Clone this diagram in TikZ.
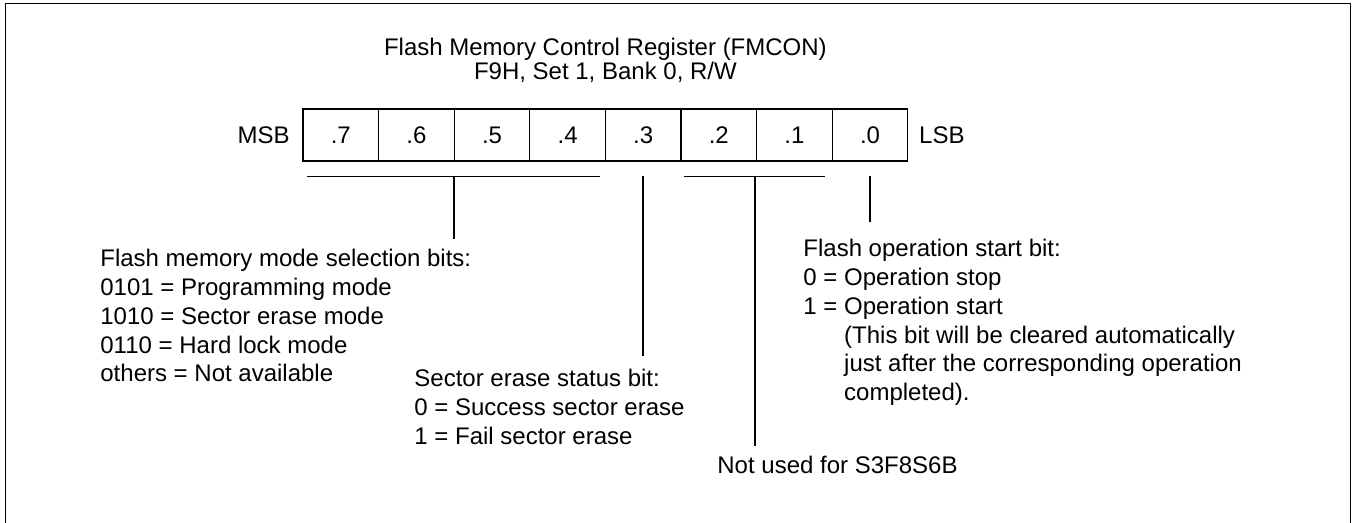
\documentclass[tikz,border=0pt]{standalone}
\usepackage{fontspec}
\setmainfont{Liberation Sans}
\usetikzlibrary{positioning}

\begin{document}
\begin{tikzpicture}[
  x=0.5pt, y=-0.5pt,
  node distance=0pt,
  bitcell/.style={draw, line width=0.55pt, outer sep=0pt, inner sep=0pt, minimum width=37.8pt, minimum height=26pt, font=\fontsize{12}{14.4}\selectfont},
  lbl/.style={inner sep=0pt, font=\fontsize{12}{14.4}\selectfont},
  note/.style={align=left, anchor=north west, inner sep=0pt, font=\fontsize{12}{14.35}\selectfont},
  wire/.style={line width=0.6pt}
]
\useasboundingbox (0,0) rectangle (1352,523);
\draw[line width=0.65pt] (5.7,540) -- (5.7,3.5) -- (1350.5,3.5) -- (1350.5,540);

% title
\node[lbl, align=center, anchor=north, font=\fontsize{12}{10.85}\selectfont] (title) at (605.4,37.5)
  {Flash Memory Control Register (FMCON)\\F9H, Set 1, Bank 0, R/W};

% register bits
\node[bitcell] (b7) at (340.8,135) {.7};
\node[bitcell, right=of b7] (b6) {.6};
\node[bitcell, right=of b6] (b5) {.5};
\node[bitcell, right=of b5] (b4) {.4};
\node[bitcell, right=of b4] (b3) {.3};
\node[bitcell, right=of b3] (b2) {.2};
\node[bitcell, right=of b2] (b1) {.1};
\node[bitcell, right=of b1] (b0) {.0};
\node[lbl, left=6.5pt of b7] (msb) {MSB};
\node[lbl, right=5.5pt of b0] (lsb) {LSB};

% descriptions
\node[note] (modetxt) at (100,249.2) {Flash memory mode selection bits:\\
  0101 = Programming mode\\1010 = Sector erase mode\\0110 = Hard lock mode\\others = Not available};
\node[note] (erasetxt) at (414,369.2) {Sector erase status bit:\\
  0 = Success sector erase\\1 = Fail sector erase};
\node[note] (unusedtxt) at (717,455.5) {Not used for S3F8S6B};
\node[note] (starttxt) at (803,239.2) {Flash operation start bit:\\
  0 = Operation stop\\1 = Operation start\\
  \hspace*{20.4pt}(This bit will be cleared automatically\\
  \hspace*{20.4pt}just after the corresponding operation\\
  \hspace*{20.4pt}completed).};

% field brackets and leaders
\coordinate (modetop) at (454,176.5);
\coordinate (erasetop) at (643,176.5);
\coordinate (unusedtop) at (755,176.5);
\coordinate (starttop) at (870,176.5);
\draw[wire] (306.7,176.5) -- (600,176.5);
\draw[wire] (684,176.5) -- (825,176.5);
\draw[wire] (modetop) -- ([yshift=5.1pt]modetxt.north -| modetop);
\draw[wire] (erasetop) -- ([yshift=6.7pt]erasetxt.north -| erasetop);
\draw[wire] (unusedtop) -- ([yshift=4.75pt]unusedtxt.north -| unusedtop);
\draw[wire] (starttop) -- ([yshift=8.6pt]starttxt.north -| starttop);
\end{tikzpicture}
\end{document}
